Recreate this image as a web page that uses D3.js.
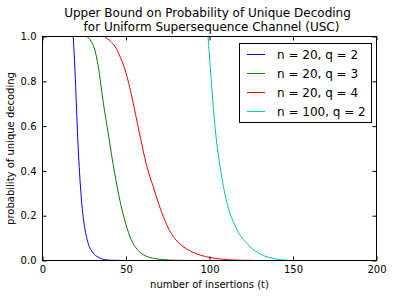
<!DOCTYPE html>
<html>
<head>
<meta charset="utf-8">
<script src="https://cdn.jsdelivr.net/npm/d3@7"></script>
<style>
  body { margin: 0; background: #fff; }
  svg { display: block; font-family: "DejaVu Sans", sans-serif; }
</style>
</head>
<body>
<svg id="chart"></svg>
<script>
// values
const tBlue = [17.4, 18.4, 19.4, 20.2, 21.0, 22.0, 23.4, 25.0, 27.0, 30.3, 33.3, 37.3, 42, 50, 200];
const pBlue = [1.15, 1.0, 0.86, 0.71, 0.56, 0.415, 0.265, 0.16, 0.086, 0.034, 0.015, 0.004, 0.001, 0, 0];

const tGreen = [24, 26.4, 29, 31.3, 33.3, 36.3, 39.5, 42.5, 45.2, 47.5, 50, 53, 57, 62, 67, 72, 80, 90, 200];
const pGreen = [1.01, 1.0, 0.98, 0.94, 0.87, 0.71, 0.56, 0.42, 0.31, 0.23, 0.16, 0.095, 0.047, 0.02, 0.009, 0.004, 0.001, 0, 0];

const tRed = [34, 37, 40.5, 44.3, 47, 49.5, 53.8, 58, 62.5, 66.3, 69.7, 73.2, 76, 79, 82, 86, 90, 95, 100, 106, 112, 120, 130, 200];
const pRed = [1.01, 1.0, 0.98, 0.945, 0.9, 0.85, 0.72, 0.57, 0.42, 0.33, 0.25, 0.18, 0.135, 0.1, 0.076, 0.053, 0.037, 0.023, 0.014, 0.007, 0.003, 0.001, 0, 0];

const tCyan = [98.6, 99.1, 100.5, 102, 103.8, 106.4, 110.2, 115.9, 122.9, 130.9, 140, 150, 200];
const pCyan = [1.04, 1.0, 0.86, 0.71, 0.56, 0.415, 0.265, 0.146, 0.072, 0.027, 0.007, 0, 0];

const seriesNames = ['n = 20, q = 2', 'n = 20, q = 3', 'n = 20, q = 4', 'n = 100, q = 2'];
const seriesColors = ['#0000ff', '#008000', '#ff0000', '#00bfbf'];
const xTicks = [0, 50, 100, 150, 200];
const yTicks = [0, 0.2, 0.4, 0.6, 0.8, 1.0];

const width = 393, height = 296;
const plotLeft = 42.5, plotRight = 376.5, plotTop = 36.5, plotBottom = 260.5;

const series = [
  { t: tBlue, p: pBlue },
  { t: tGreen, p: pGreen },
  { t: tRed, p: pRed },
  { t: tCyan, p: pCyan }
].map((s, i) => ({
  name: seriesNames[i],
  color: seriesColors[i],
  values: s.t.map((t, j) => [t, s.p[j]])
}));

const x = d3.scaleLinear([0, 200], [plotLeft, plotRight]);
const y = d3.scaleLinear([0, 1], [plotBottom, plotTop]);

const svg = d3.select('#chart')
  .attr('width', width)
  .attr('height', height)
  .attr('viewBox', [0, 0, width, height]);

svg.append('defs').append('clipPath')
  .attr('id', 'plotClip')
  .append('rect')
    .attr('x', plotLeft)
    .attr('y', plotTop)
    .attr('width', plotRight - plotLeft)
    .attr('height', plotBottom - plotTop);

// lines
const line = d3.line()
  .x(d => x(d[0]))
  .y(d => y(d[1]))
  .curve(d3.curveMonotoneX);

svg.append('g')
  .attr('clip-path', 'url(#plotClip)')
  .selectAll('path')
  .data(series)
  .join('path')
    .attr('fill', 'none')
    .attr('stroke', d => d.color)
    .attr('stroke-width', 1)
    .attr('d', d => line(d.values));

// axes, ticks pointing inward on all four sides
const styleAxis = g => {
  g.select('.domain').remove();
  g.selectAll('.tick line').attr('stroke', '#000');
  g.selectAll('.tick text').attr('fill', '#000').attr('font-size', 10);
};

svg.append('g')
  .attr('transform', `translate(0,${plotBottom})`)
  .call(d3.axisBottom(x).tickValues(xTicks).tickFormat(d3.format('d'))
    .tickSizeInner(-4).tickSizeOuter(0).tickPadding(5))
  .attr('font-family', null)
  .call(styleAxis);

svg.append('g')
  .attr('transform', `translate(0,${plotTop})`)
  .call(d3.axisTop(x).tickValues(xTicks).tickFormat('')
    .tickSizeInner(-4).tickSizeOuter(0))
  .call(styleAxis);

svg.append('g')
  .attr('transform', `translate(${plotLeft},0)`)
  .call(d3.axisLeft(y).tickValues(yTicks).tickFormat(d3.format('.1f'))
    .tickSizeInner(-4).tickSizeOuter(0).tickPadding(6))
  .attr('font-family', null)
  .call(styleAxis);

svg.append('g')
  .attr('transform', `translate(${plotRight},0)`)
  .call(d3.axisRight(y).tickValues(yTicks).tickFormat('')
    .tickSizeInner(-4).tickSizeOuter(0))
  .call(styleAxis);

// frame
svg.append('rect')
  .attr('x', plotLeft)
  .attr('y', plotTop)
  .attr('width', plotRight - plotLeft)
  .attr('height', plotBottom - plotTop)
  .attr('fill', 'none')
  .attr('stroke', '#000')
  .attr('stroke-width', 1);

// labels
svg.append('text')
  .attr('x', (plotLeft + plotRight) / 2)
  .attr('y', 288)
  .attr('text-anchor', 'middle')
  .attr('font-size', 10)
  .text('number of insertions (t)');

svg.append('text')
  .attr('transform', `translate(14,${(plotTop + plotBottom) / 2}) rotate(-90)`)
  .attr('text-anchor', 'middle')
  .attr('font-size', 10)
  .text('probability of unique decoding');

const title = svg.append('text')
  .attr('text-anchor', 'middle')
  .attr('font-size', 12);
title.append('tspan')
  .attr('x', (plotLeft + plotRight) / 2 - 2)
  .attr('y', 17)
  .text('Upper Bound on Probability of Unique Decoding');
title.append('tspan')
  .attr('x', (plotLeft + plotRight) / 2 + 2)
  .attr('y', 31)
  .text('for Uniform Supersequence Channel (USC)');

// legend
const legend = svg.append('g');
legend.append('rect')
  .attr('x', 239.5)
  .attr('y', 43.5)
  .attr('width', 132)
  .attr('height', 79)
  .attr('fill', '#fff')
  .attr('stroke', '#000')
  .attr('stroke-width', 1);

const item = legend.selectAll('g.item')
  .data(series)
  .join('g')
    .attr('class', 'item')
    .attr('transform', (d, i) => `translate(0,${54.5 + i * 19})`);

item.append('line')
  .attr('x1', 247)
  .attr('x2', 265)
  .attr('stroke', d => d.color)
  .attr('stroke-width', 1);

item.append('text')
  .attr('x', 277)
  .attr('dy', '0.35em')
  .attr('font-size', 12)
  .text(d => d.name);
</script>
</body>
</html>
